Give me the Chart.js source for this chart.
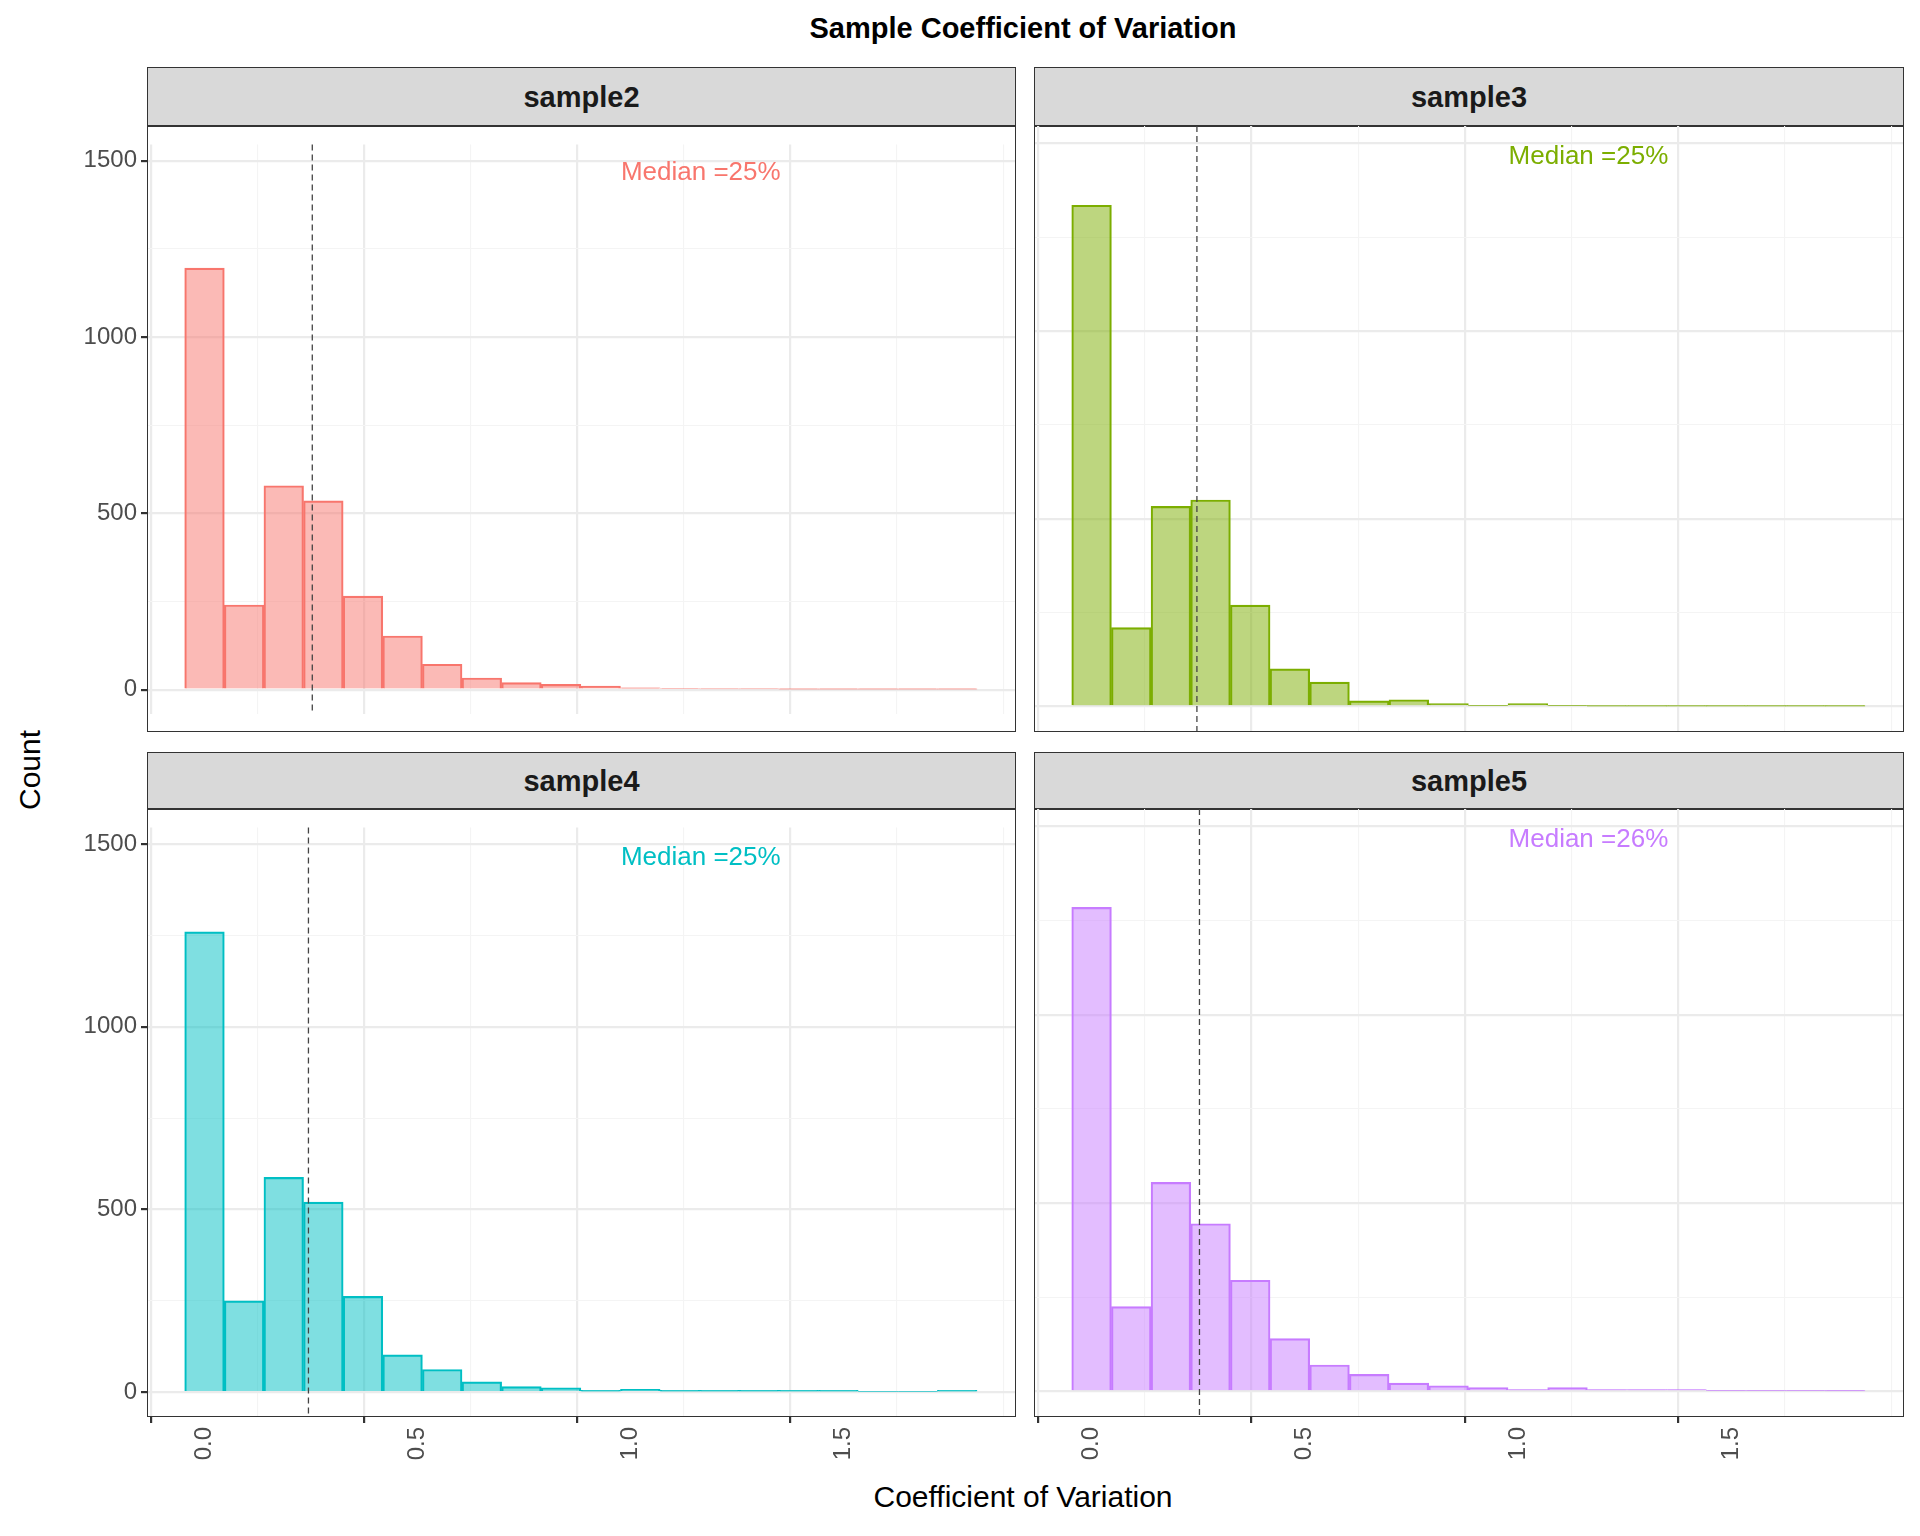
<!DOCTYPE html>
<html><head><meta charset="utf-8">
<script src="https://cdn.jsdelivr.net/npm/chart.js@4"></script>
<style>
body{margin:0;background:#fff;width:1920px;height:1536px;position:relative;font-family:"Liberation Sans",Arial,sans-serif;overflow:hidden}
.abs{position:absolute}
.strip{position:absolute;background:#d9d9d9;border:1.5px solid #333;box-sizing:border-box;text-align:center;font-weight:bold;font-size:29px;color:#1a1a1a}
.frame{position:absolute;border:1.5px solid #333;box-sizing:border-box;pointer-events:none}
</style></head><body>
<div class="abs" style="left:0;width:1920px;top:12px;text-align:center;font-weight:bold;font-size:29px;color:#000;padding-left:126px;box-sizing:border-box">Sample Coefficient of Variation</div>
<div class="abs" style="left:0;width:1920px;top:1480px;text-align:center;font-size:30px;color:#000;padding-left:126px;box-sizing:border-box">Coefficient of Variation</div>
<div class="abs" style="left:30px;top:770px;font-size:30px;color:#000;transform:translate(0,-50%) rotate(-90deg);transform-origin:center;width:0;white-space:nowrap;display:flex;justify-content:center">Count</div>
<script>
const samples = ["sample2","sample3","sample4","sample5"];
const colors = ["#F8766D","#7CAE00","#00BFC4","#C77CFF"];
const fills = ["rgba(248,118,109,0.5)","rgba(124,174,0,0.5)","rgba(0,191,196,0.5)","rgba(199,124,255,0.5)"];
const binCenters = [0,0.093,0.186,0.279,0.372,0.465,0.558,0.651,0.744,0.837,0.930,1.023,1.116,1.209,1.302,1.395,1.488,1.581,1.674,1.767];
const counts2 = [1195,240,578,535,265,152,72,33,20,15,10,5,3,2,2,1,1,1,1,1];
const counts3 = [1335,210,533,550,270,100,65,15,18,8,2,8,2,1,1,1,1,1,1,1];
const counts4 = [1260,250,588,520,262,102,62,28,15,12,5,8,5,5,5,5,5,2,2,5];
const counts5 = [1285,225,555,445,295,140,70,45,22,15,10,5,10,5,5,5,2,2,2,1];
const allCounts = [counts2,counts3,counts4,counts5];
const medians = [0.253,0.247,0.244,0.253];
const medianLabels = ["Median =25%","Median =25%","Median =25%","Median =26%"];
const xTicks = [0,0.25,0.5,0.75,1.0,1.25,1.5,1.75];
const yTicks = [0,250,500,750,1000,1250,1500];

const panels = [
 {left:147,right:1016,top:126,bottom:732,stripTop:67},
 {left:1034,right:1904,top:126,bottom:732,stripTop:67},
 {left:147,right:1016,top:809,bottom:1417,stripTop:752},
 {left:1034,right:1904,top:809,bottom:1417,stripTop:752}
];
const YW=100, XH=80;
panels.forEach((p,i)=>{
  const leftCol = (i%2===0), bottomRow = (i>=2);
  const s=document.createElement('div');s.className='strip';
  s.style.cssText=`left:${p.left}px;top:${p.stripTop}px;width:${p.right-p.left}px;height:${p.top-p.stripTop+1}px;line-height:${p.top-p.stripTop}px`;
  s.textContent=samples[i];document.body.appendChild(s);
  const d=document.createElement('div');d.className='abs';
  const cl = leftCol? p.left-YW : p.left;
  const w = p.right-cl, h=(p.bottom-p.top)+(bottomRow?XH:0);
  d.style.cssText=`left:${cl}px;top:${p.top}px;width:${w}px;height:${h}px`;
  const c=document.createElement('canvas');d.appendChild(c);document.body.appendChild(d);
  const f=document.createElement('div');f.className='frame';
  f.style.cssText=`left:${p.left}px;top:${p.top-1}px;width:${p.right-p.left}px;height:${p.bottom-p.top+1}px`;
  document.body.appendChild(f);
  const isMajX=v=>v!==undefined&&Math.abs(v*2-Math.round(v*2))<1e-6;
  const isMajY=v=>v!==undefined&&v%500===0;
  const tv=ctx=>ctx&&ctx.tick?ctx.tick.value:undefined;
  const medPlugin={id:'med',afterDatasetsDraw(ch){
    const ctx=ch.ctx,x=ch.scales.x,y=ch.scales.y,a=ch.chartArea;
    const px=x.getPixelForValue(medians[i]);
    ctx.save();ctx.strokeStyle='#444';ctx.lineWidth=1.3;ctx.setLineDash([6,4]);
    ctx.beginPath();ctx.moveTo(px,a.top);ctx.lineTo(px,a.bottom);ctx.stroke();ctx.setLineDash([]);
    ctx.fillStyle=colors[i];ctx.font='26px "Liberation Sans", Arial';ctx.textAlign='center';ctx.textBaseline='middle';
    ctx.fillText(medianLabels[i],x.getPixelForValue(1.165),y.getPixelForValue(1464));
    ctx.restore();}};
  new Chart(c,{type:'bar',
   data:{datasets:[{data:binCenters.map((b,k)=>({x:b,y:allCounts[i][k]})),backgroundColor:fills[i],borderColor:colors[i],borderWidth:1.5,barPercentage:1,categoryPercentage:1}]},
   options:{responsive:true,maintainAspectRatio:false,animation:false,layout:{padding:0},
    plugins:{legend:{display:false},tooltip:{enabled:false}},
    scales:{
     x:{type:'linear',min:-0.135,max:1.905,offset:false,
       afterBuildTicks:sc=>{sc.ticks=xTicks.map(v=>({value:v}));},
       afterFit:sc=>{sc.height=bottomRow?XH:0;},
       grid:{color:ctx=>isMajX(tv(ctx))?'#EBEBEB':'#F4F4F4',lineWidth:ctx=>isMajX(tv(ctx))?2.2:1.1,
         tickColor:ctx=>(bottomRow&&isMajX(tv(ctx)))?'#333':'rgba(0,0,0,0)',tickLength:6,drawTicks:bottomRow},
       border:{display:false},
       ticks:{display:bottomRow,autoSkip:false,minRotation:90,maxRotation:90,color:'#4d4d4d',font:{size:24,family:'"Liberation Sans", Arial'},padding:4,
         callback:v=>isMajX(v)?v.toFixed(1):''}},
     y:{min:-68,max:1546,
       afterBuildTicks:sc=>{sc.ticks=yTicks.map(v=>({value:v}));},
       afterFit:sc=>{sc.width=leftCol?YW:0;},
       grid:{color:ctx=>isMajY(tv(ctx))?'#EBEBEB':'#F4F4F4',lineWidth:ctx=>isMajY(tv(ctx))?2.2:1.1,
         tickColor:ctx=>(leftCol&&isMajY(tv(ctx)))?'#333':'rgba(0,0,0,0)',tickLength:6,drawTicks:leftCol},
       border:{display:false},
       ticks:{display:leftCol,autoSkip:false,color:'#4d4d4d',font:{size:24,family:'"Liberation Sans", Arial'},padding:4,
         callback:v=>isMajY(v)?String(v):''}}
    }},plugins:[medPlugin]});
});
</script>
</body></html>
